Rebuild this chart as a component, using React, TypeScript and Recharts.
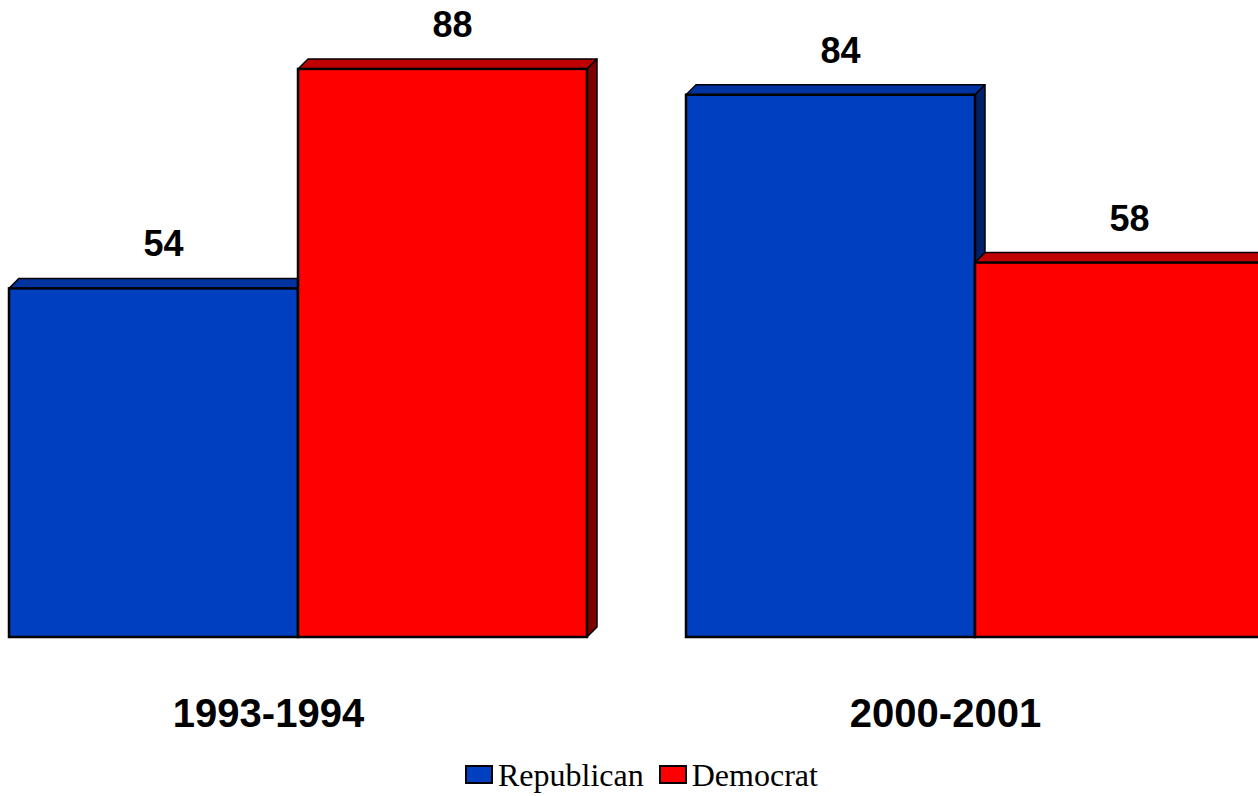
import React from 'react';
import { BarChart, Bar, XAxis, YAxis, Legend, LabelList } from 'recharts';

const categories = ['1993-1994', '2000-2001'];
const republican = [54, 84];
const democrat = [88, 58];
const seriesNames = ['Republican', 'Democrat'];

const data = categories.map((c, i) => ({ period: c, Republican: republican[i], Democrat: democrat[i] }));

const COLORS: Record<string, { front: string; top: string; side: string }> = {
  Republican: { front: '#0040C0', top: '#0033A0', side: '#00206A' },
  Democrat: { front: '#FF0000', top: '#BF0000', side: '#800000' },
};

const DEPTH = 10;

function Bar3D(props: any) {
  const { x, y, width, height, colors } = props;
  if (width == null || height == null) return null;
  const d = DEPTH;
  return (
    <g>
      <polygon
        points={`${x},${y} ${x + d},${y - d} ${x + width + d},${y - d} ${x + width},${y}`}
        fill={colors.top}
        stroke="#000"
        strokeWidth={1.5}
        strokeLinejoin="round"
      />
      <polygon
        points={`${x + width},${y} ${x + width + d},${y - d} ${x + width + d},${y + height - d} ${x + width},${y + height}`}
        fill={colors.side}
        stroke="#000"
        strokeWidth={1.5}
        strokeLinejoin="round"
      />
      <rect x={x} y={y} width={width} height={height} fill={colors.front} stroke="#000" strokeWidth={2.5} />
    </g>
  );
}

function ValueLabel(props: any) {
  const { x, y, width, value } = props;
  return (
    <text
      x={x + width / 2 + 10}
      y={y - 32}
      textAnchor="middle"
      fontFamily="Arial, 'Liberation Sans', sans-serif"
      fontWeight="bold"
      fontSize={36}
      fill="#000"
    >
      {value}
    </text>
  );
}

function CategoryTick(props: any) {
  const { x, y, payload } = props;
  return (
    <text
      x={x - 29}
      y={y + 90}
      textAnchor="middle"
      fontFamily="Arial, 'Liberation Sans', sans-serif"
      fontWeight="bold"
      fontSize={40}
      fill="#000"
    >
      {payload.value}
    </text>
  );
}

function LegendContent() {
  return (
    <div style={{ display: 'flex', alignItems: 'flex-start', whiteSpace: 'nowrap' }}>
      {seriesNames.map((n, i) => (
        <div key={n} style={{ display: 'flex', alignItems: 'flex-start', marginRight: i === 0 ? 15 : 0 }}>
          <div
            style={{
              width: 24,
              height: 15,
              background: COLORS[n].front,
              border: '2px solid #000',
              marginTop: 8,
              marginRight: 5,
            }}
          />
          <span
            style={{
              fontFamily: "'Times New Roman', 'Liberation Serif', serif",
              fontSize: 32,
              lineHeight: '37px',
              color: '#000',
            }}
          >
            {n}
          </span>
        </div>
      ))}
    </div>
  );
}

export default function App() {
  return (
    <div style={{ position: 'absolute', left: 0, top: 0, width: 1258, height: 796, overflow: 'hidden', background: '#fff' }}>
      <div style={{ position: 'absolute', left: -60, top: 0 }}>
        <BarChart
          width={1420}
          height={796}
          data={data}
          margin={{ top: 56, right: 47, left: 19, bottom: 0 }}
          barCategoryGap={50}
          barGap={0}
        >
          <XAxis
            dataKey="period"
            height={119}
            axisLine={false}
            tickLine={false}
            tickSize={0}
            tickMargin={0}
            tick={<CategoryTick />}
            interval={0}
          />
          <YAxis hide domain={[0, 90]} />
          <Legend
            verticalAlign="bottom"
            height={40}
            content={<LegendContent />}
            wrapperStyle={{ top: 757, left: 525, width: 'auto', bottom: 'auto' }}
          />
          {seriesNames.map((n) => (
            <Bar
              key={n}
              dataKey={n}
              isAnimationActive={false}
              shape={(p: any) => <Bar3D {...p} colors={COLORS[n]} />}
            >
              <LabelList dataKey={n} content={<ValueLabel />} />
            </Bar>
          ))}
        </BarChart>
      </div>
    </div>
  );
}
